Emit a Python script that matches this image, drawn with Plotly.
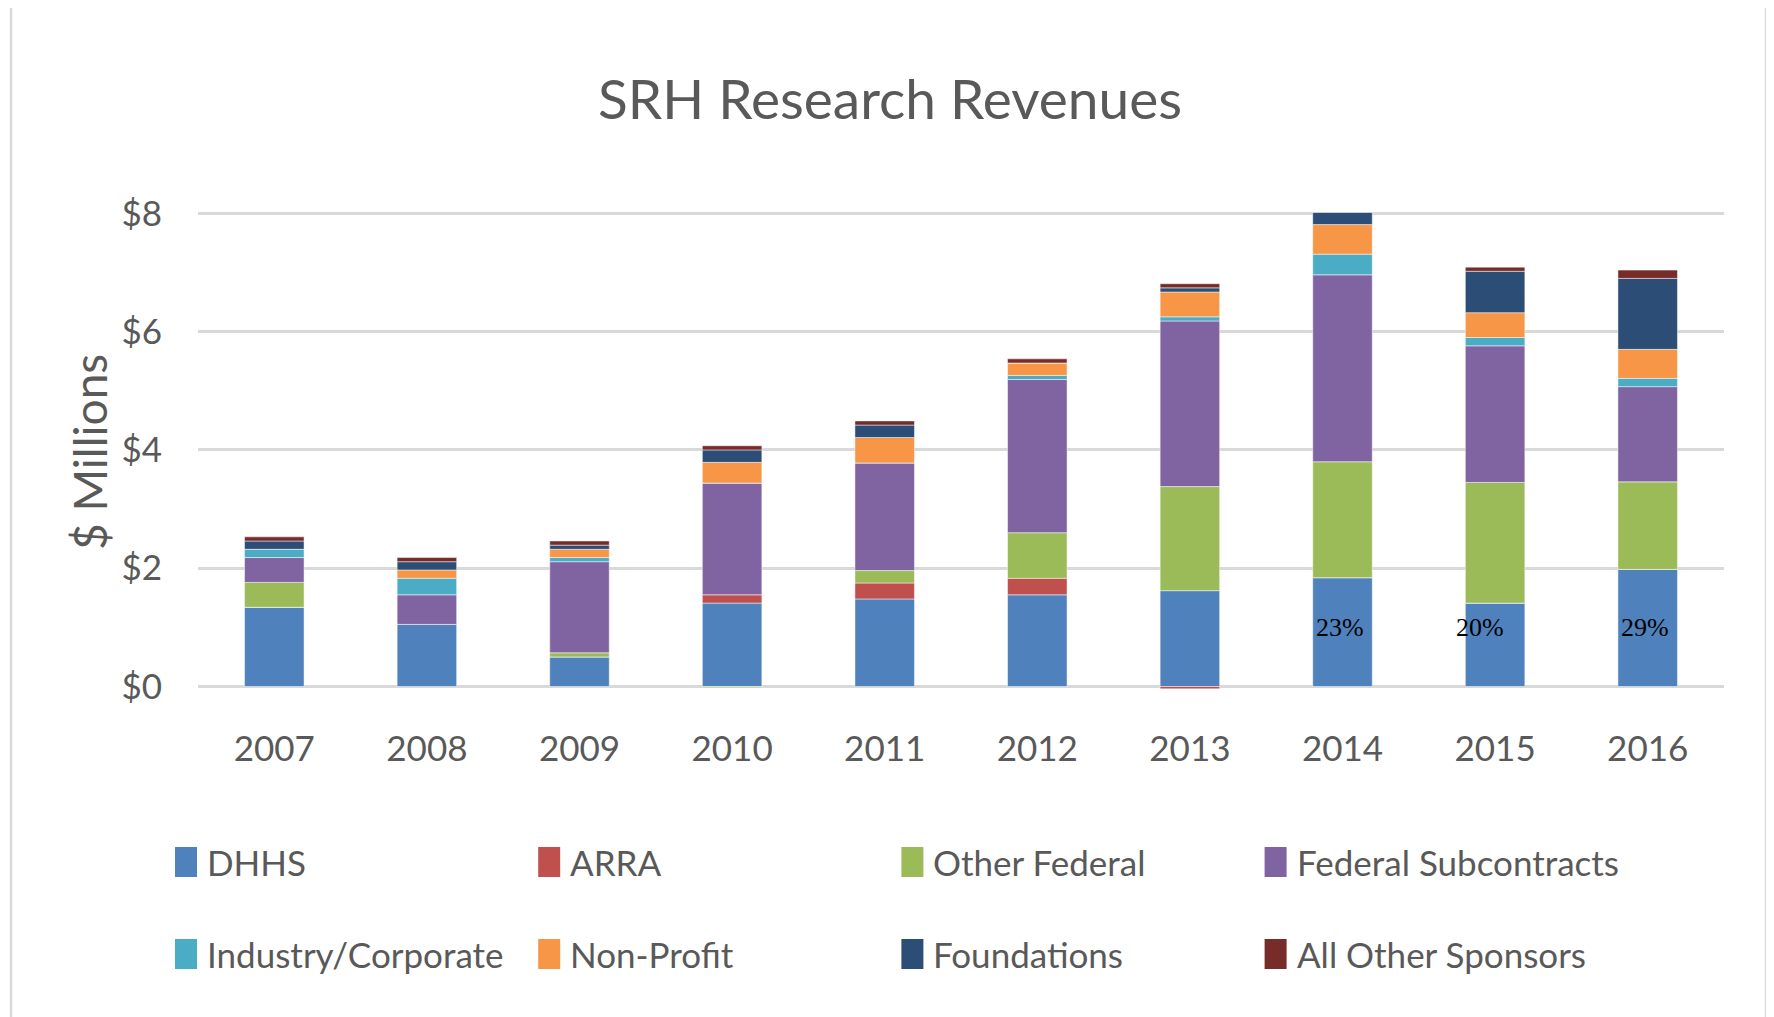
import plotly.graph_objects as go

# SRH research revenues, $ millions
years = ["2007", "2008", "2009", "2010", "2011", "2012", "2013", "2014", "2015", "2016"]

dhhs = [1.34, 1.05, 0.50, 1.41, 1.48, 1.55, 1.62, 1.84, 1.41, 1.98]
arra = [0, 0, 0, 0.14, 0.27, 0.28, -0.04, 0, 0, 0]
other_federal = [0.42, 0, 0.07, -0.02, 0.21, 0.77, 1.76, 1.96, 2.04, 1.48]
federal_subcontracts = [0.42, 0.50, 1.54, 1.89, 1.82, 2.59, 2.80, 3.16, 2.31, 1.61]
industry_corporate = [0.14, 0.28, 0.07, 0, 0, 0.07, 0.07, 0.35, 0.14, 0.14]
non_profit = [0, 0.14, 0.14, 0.35, 0.43, 0.21, 0.42, 0.50, 0.42, 0.49]
foundations = [0.14, 0.14, 0.07, 0.21, 0.21, 0, 0.07, 0.21, 0.70, 1.20]
all_other = [0.07, 0.07, 0.07, 0.07, 0.07, 0.07, 0.07, 0, 0.07, 0.14]

series_names = ["DHHS", "ARRA", "Other Federal", "Federal Subcontracts",
                "Industry/Corporate", "Non-Profit", "Foundations", "All Other Sponsors"]
series_values = [dhhs, arra, other_federal, federal_subcontracts,
                 industry_corporate, non_profit, foundations, all_other]
colors = ["#4F81BD", "#C0504D", "#9BBB59", "#8064A2",
          "#4BACC6", "#F79646", "#2C4D75", "#772C2A"]

y_ticks = [0, 2, 4, 6, 8]
y_tick_labels = ["$0", "$2", "$4", "$6", "$8"]

pct_years = ["2014", "2015", "2016"]
pct_labels = ["23%", "20%", "29%"]

FONT = "Lato, Roboto, sans-serif"
GREY = "#595959"

# the page has an 8px body margin, so the figure is laid out 8px smaller
OFF = 8
W, H = 1774 - OFF, 1017 - OFF
L, T = 198 - OFF, 207 - OFF
PW, PH = 1526, 485
R, B = W - L - PW, H - T - PH


def px_x(x):
    # x in screenshot pixels -> paper coords
    return (x - OFF - L) / PW


def px_y(y):
    return (T + PH - (y - OFF)) / PH


fig = go.Figure()
for name, vals, col in zip(series_names, series_values, colors):
    fig.add_trace(go.Bar(
        x=years, y=vals, name=name, showlegend=False,
        marker=dict(color=col, line=dict(color="rgba(255,255,255,0.6)", width=0.8)),
    ))

shapes = []
annotations = []

# outer chart frame (bottom edge runs off the page)
shapes.append(dict(type="rect", xref="paper", yref="paper",
                   x0=px_x(11), x1=px_x(1766), y0=px_y(1060), y1=px_y(5),
                   line=dict(color="#d9d9d9", width=2.5), fillcolor="rgba(0,0,0,0)"))

# legend: 2 rows x 4 columns
for i, (name, col) in enumerate(zip(series_names, colors)):
    cx = 175 + (i % 4) * 363.2
    cy = 862 + (i // 4) * 92
    shapes.append(dict(type="rect", xref="paper", yref="paper",
                       x0=px_x(cx), x1=px_x(cx + 22), y0=px_y(cy + 15), y1=px_y(cy - 15),
                       line=dict(width=0), fillcolor=col))
    annotations.append(dict(xref="paper", yref="paper", x=px_x(cx + 30), y=px_y(cy),
                            xanchor="left", yanchor="middle", showarrow=False, text=name,
                            font=dict(family=FONT, size=35, color=GREY)))

# share of DHHS labels (category index on the x axis)
for yr, lab in zip(pct_years, pct_labels):
    annotations.append(dict(x=years.index(yr), y=1.0, text=lab, showarrow=False,
                            xshift=-15 if yr == "2015" else -3,
                            font=dict(family="Liberation Serif, Times New Roman, serif",
                                      size=26, color="black")))

# y axis title
annotations.append(dict(xref="paper", yref="paper", x=px_x(89), y=px_y(452),
                        text="$ Millions", textangle=-90, showarrow=False,
                        xanchor="center", yanchor="middle",
                        font=dict(family=FONT, size=46, color=GREY)))

fig.update_layout(
    width=W, height=H,
    margin=dict(l=L, r=R, t=T, b=B),
    barmode="relative", bargap=0.61,
    paper_bgcolor="white", plot_bgcolor="white",
    title=dict(text="SRH Research Revenues", x=(890 - OFF) / W, xref="container",
               xanchor="center", y=1 - (100 - OFF) / H, yanchor="middle",
               font=dict(family=FONT, size=55, color=GREY)),
    shapes=shapes, annotations=annotations,
    xaxis=dict(type="category", showgrid=False, zeroline=False, showline=False,
               ticks="", ticklabelstandoff=33,
               tickfont=dict(family=FONT, size=35, color=GREY)),
    yaxis=dict(range=[-0.093, 8.107], tickvals=y_ticks, ticktext=y_tick_labels,
               showgrid=True, gridcolor="#d9d9d9", gridwidth=3,
               zeroline=True, zerolinecolor="#d9d9d9", zerolinewidth=3,
               showline=False, ticks="", ticklabelstandoff=35,
               tickfont=dict(family=FONT, size=35, color=GREY)),
)

fig.write_html("out.html")
